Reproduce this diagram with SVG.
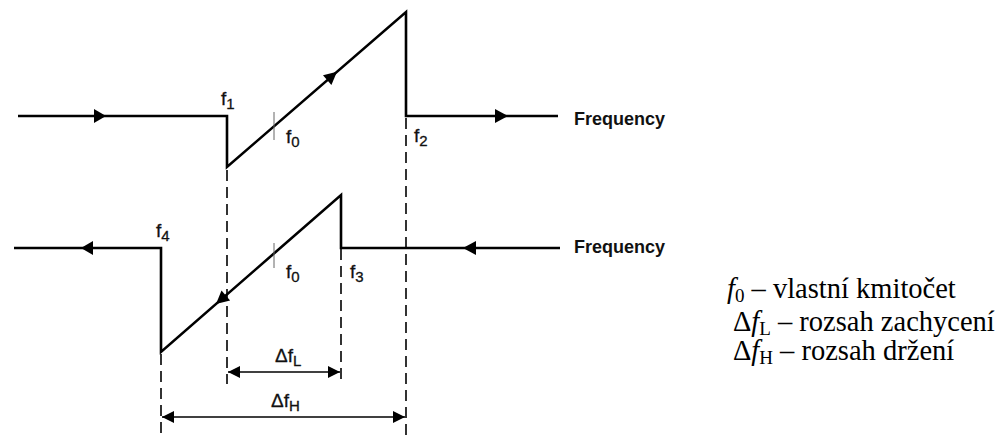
<svg xmlns="http://www.w3.org/2000/svg" width="999" height="437" viewBox="0 0 999 437">
<style>
.ln{fill:none;stroke:#000;stroke-width:2.6;stroke-linejoin:miter}
.ds{fill:none;stroke:#000;stroke-width:1.6;stroke-dasharray:11,6}
.dim{fill:none;stroke:#000;stroke-width:1.3}
.tk{stroke:#666;stroke-width:1}
.lb{font-family:"Liberation Sans",Arial,sans-serif;font-size:19px;fill:#111;stroke:#111;stroke-width:0.3}
.fq{font-family:"Liberation Sans",Arial,sans-serif;font-size:18px;font-weight:bold;fill:#111}
.sb{font-size:15px}
.lg{font-family:"Liberation Serif","Times New Roman",serif;font-size:28.5px;fill:#000}
.lgs{font-size:19px}
</style>
<defs>
<marker id="ah" viewBox="0 0 10 10" refX="10" refY="5" markerWidth="13" markerHeight="12" markerUnits="userSpaceOnUse" orient="auto-start-reverse">
<path d="M0,0 L10,5 L0,10 Z" fill="#000"/>
</marker>
</defs>
<g id="connectors">
<line class="ds" x1="227" y1="170" x2="227" y2="384"/>
<line class="ds" x1="341" y1="198" x2="341" y2="383"/>
<line class="ds" x1="406" y1="118" x2="406" y2="437"/>
<line class="ds" x1="161" y1="354" x2="161" y2="437"/>
</g>
<g id="upper-curve">
<polyline class="ln" points="18,116 227,116 227,167 406,12 406,116 558,116"/>
<path d="M94,109 L106,116 L94,123 Z" fill="#000"/>
<path d="M495,109 L508,116 L495,123 Z" fill="#000"/>
<path d="M337,71.7 L331.4,85.1 L323,75.3 Z" fill="#000"/>
<line class="tk" x1="274" y1="112" x2="274" y2="140"/>
<text class="lb" x="221" y="105">f<tspan class="sb" dy="4">1</tspan></text>
<text class="lb" x="286" y="143">f<tspan class="sb" dy="4">0</tspan></text>
<text class="lb" x="414" y="142">f<tspan class="sb" dy="4">2</tspan></text>
<text class="fq" x="574" y="125">Frequency</text>
</g>
<g id="lower-curve">
<polyline class="ln" points="14,248 161,248 161,352 341,195 341,248 560,248"/>
<path d="M93,241 L81,248 L93,255 Z" fill="#000"/>
<path d="M476,241 L463,248 L476,255 Z" fill="#000"/>
<path d="M216,304 L230.1,300.4 L221.5,290.6 Z" fill="#000"/>
<line class="tk" x1="274" y1="243" x2="274" y2="268"/>
<text class="lb" x="156" y="237">f<tspan class="sb" dy="4">4</tspan></text>
<text class="lb" x="286" y="278">f<tspan class="sb" dy="4">0</tspan></text>
<text class="lb" x="350" y="278">f<tspan class="sb" dy="4">3</tspan></text>
<text class="fq" x="574" y="253">Frequency</text>
</g>
<g id="dfL">
<line class="dim" x1="228" y1="372" x2="340" y2="372" marker-start="url(#ah)" marker-end="url(#ah)"/>
<text class="lb" x="275" y="362">Δf<tspan class="sb" dy="4">L</tspan></text>
</g>
<g id="dfH">
<line class="dim" x1="162" y1="417" x2="405" y2="417" marker-start="url(#ah)" marker-end="url(#ah)"/>
<text class="lb" x="271" y="407">Δf<tspan class="sb" dy="4">H</tspan></text>
</g>
<g id="legend">
<text class="lg" x="727" y="298"><tspan font-style="italic">f</tspan><tspan class="lgs" dy="4">0</tspan><tspan dy="-4"> – vlastní kmitočet</tspan></text>
<text class="lg" x="733" y="331">Δ<tspan font-style="italic">f</tspan><tspan class="lgs" dy="4">L</tspan><tspan dy="-4"> – rozsah zachycení</tspan></text>
<text class="lg" x="733" y="360">Δ<tspan font-style="italic">f</tspan><tspan class="lgs" dy="4">H</tspan><tspan dy="-4"> – rozsah držení</tspan></text>
</g>
</svg>
